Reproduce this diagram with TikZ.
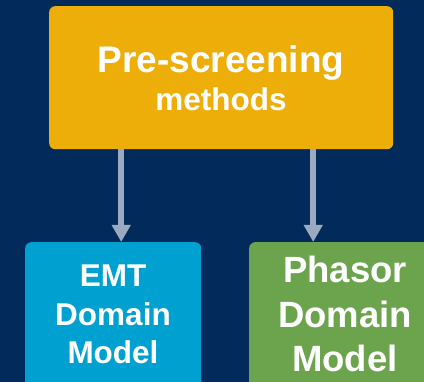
\documentclass[tikz,border=0pt]{standalone}
\usepackage{fontspec}
\setmainfont{Liberation Sans}
\usetikzlibrary{arrows.meta}
\definecolor{navy}{HTML}{022A5A}
\definecolor{gold}{HTML}{EEAE0A}
\definecolor{skyblue}{HTML}{00A0D0}
\definecolor{leaf}{HTML}{6CA44E}
\definecolor{arrowgrey}{HTML}{9AAAC0}
\tikzset{
  box/.style={rounded corners=6pt, inner sep=0pt, anchor=north west},
  lbl/.style={text=white, font=\bfseries, inner sep=0pt, anchor=base},
  arr/.style={draw=arrowgrey, line width=6.5pt,
    -{Triangle[width=18pt,length=17pt]}, arrowgrey}
}
\begin{document}
\begin{tikzpicture}[x=1pt,y=-1pt]
  \useasboundingbox (0,0) rectangle (424,382);
  \fill[navy] (0,0) rectangle (424,382);
  \clip (0,0) rectangle (424,382);
  % boxes
  \node[box, fill=gold, minimum width=344pt, minimum height=143pt] (top) at (49,6) {};
  \node[box, fill=skyblue, minimum width=176pt, minimum height=160pt] (emt) at (25,242) {};
  \node[box, fill=leaf, minimum width=192pt, minimum height=160pt] (phasor) at (249,242) {};
  % labels
  \node[lbl, font=\bfseries\fontsize{37}{40}\selectfont] (t1) at (221,73) {Pre-screening};
  \node[lbl, font=\bfseries\fontsize{31.5}{36}\selectfont] (t2) at (221,111) {methods};
  \node[lbl, font=\bfseries\fontsize{31.5}{36}\selectfont] (e1) at (113,287) {EMT};
  \node[lbl, font=\bfseries\fontsize{31.5}{36}\selectfont] (e2) at (113,325.5) {Domain};
  \node[lbl, font=\bfseries\fontsize{31.5}{36}\selectfont] (e3) at (113,363.5) {Model};
  \node[lbl, font=\bfseries\fontsize{36.5}{40}\selectfont] (p1) at (345,283) {Phasor};
  \node[lbl, font=\bfseries\fontsize{36.5}{40}\selectfont] (p2) at (345,327.5) {Domain};
  \node[lbl, font=\bfseries\fontsize{36.5}{40}\selectfont] (p3) at (345,372) {Model};
  % connectors
  \draw[arr] ([xshift=-100pt]top.south) -- ([xshift=-100pt]top.south |- emt.north);
  \draw[arr] ([xshift=92pt]top.south) -- ([xshift=92pt]top.south |- phasor.north);
\end{tikzpicture}
\end{document}
